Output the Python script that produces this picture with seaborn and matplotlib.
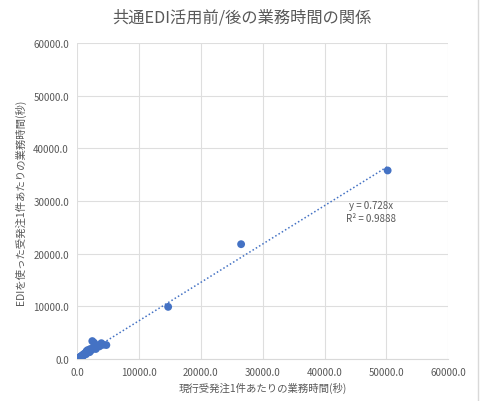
import numpy as np
import pandas as pd
import matplotlib
matplotlib.use("Agg")
import matplotlib.pyplot as plt
import seaborn as sns
from matplotlib.ticker import FormatStrFormatter

# Data (seconds per order, before / after EDI)
before_sec = [100, 200, 300, 350, 450, 500, 600, 700, 800, 850, 950, 1000,
              1100, 1200, 1300, 1400, 1500, 1600, 1700, 1800, 2000, 2100,
              2300, 2430, 2500, 2700, 2900, 3000, 3300, 3600, 3900, 4200,
              4700, 14700, 26500, 50200]
after_sec = [80, 150, 250, 200, 350, 450, 400, 600, 500, 700, 650, 900,
             800, 1000, 1100, 900, 1500, 1200, 1700, 1400, 1300, 1900,
             1700, 3400, 2000, 3100, 2300, 1900, 2600, 2400, 3000, 2700,
             2650, 9900, 21800, 35800]
slope = 0.728
r2 = 0.9888

title = "共通EDI活用前/後の業務時間の関係"
xlabel = "現行受発注1件あたりの業務時間(秒)"
ylabel = "EDIを使った受発注1件あたりの業務時間(秒)"

df = pd.DataFrame({"before": before_sec, "after": after_sec})

sns.set_style("white")
plt.rcParams["font.family"] = ["Noto Sans CJK JP", "DejaVu Sans"]

fig = plt.figure(figsize=(4.83, 4.02), dpi=100)
ax = fig.add_axes([0.160, 0.1045, 0.768, 0.786])

blue = "#4472C4"
grey_text = "#595959"

sns.scatterplot(data=df, x="before", y="after", ax=ax, color=blue,
                s=32, edgecolor="none", zorder=3)

# linear trend through origin
trend_x = np.array([0, max(before_sec)])
ax.plot(trend_x, slope * trend_x, linestyle=(0, (1, 1.5)), color=blue,
        linewidth=1.1, zorder=2)

ax.text(47500, 28000, f"y = {slope}x\nR² = {r2}", ha="center", va="center",
        fontsize=7, color=grey_text, linespacing=1.3)

ax.set_xlim(0, 60000)
ax.set_ylim(0, 60000)
ax.set_xticks(np.arange(0, 60001, 10000))
ax.set_yticks(np.arange(0, 60001, 10000))
ax.xaxis.set_major_formatter(FormatStrFormatter("%.1f"))
ax.yaxis.set_major_formatter(FormatStrFormatter("%.1f"))
ax.tick_params(axis="both", labelsize=7, labelcolor=grey_text, length=0, pad=6)
ax.grid(True, color="#dedede", linewidth=0.8)
ax.set_axisbelow(True)

for side in ["top", "right", "left"]:
    ax.spines[side].set_visible(False)
ax.spines["bottom"].set_color("#d9d9d9")

ax.set_xlabel(xlabel, fontsize=7.5, color=grey_text, labelpad=3)
ax.set_ylabel(ylabel, fontsize=7.5, color=grey_text, labelpad=5)

fig.text(0.5, 0.955, title, ha="center", va="center", fontsize=11.7, color=grey_text)

# chart border on the right edge
fig.add_artist(plt.Line2D([0.989, 0.989], [0, 1], color="#d9d9d9", linewidth=1))

fig.savefig("out.png", dpi=100)
